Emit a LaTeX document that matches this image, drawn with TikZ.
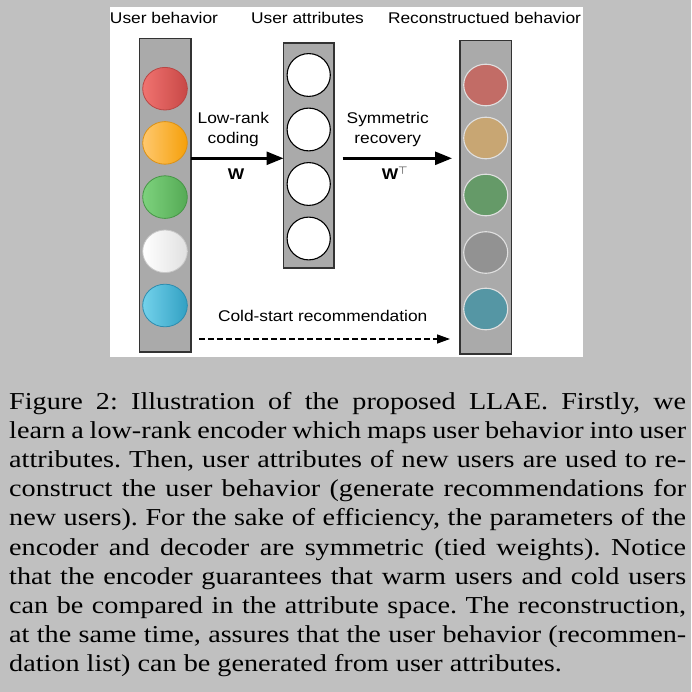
\documentclass[tikz,border=0pt]{standalone}
\usepackage{fontspec}
\setmainfont{Liberation Serif}
\newfontfamily\diafont{Liberation Sans}
\usepackage{amssymb}
\usetikzlibrary{arrows.meta}
\definecolor{bggray}{HTML}{C0C0C0}
\definecolor{colfill}{HTML}{AAAAAA}
\definecolor{colline}{HTML}{333333}
\newcommand{\sx}[1]{\scalebox{1.12}[1]{#1}}
\newcommand{\dfont}{\diafont\fontsize{15.5}{18}\selectfont}
\tikzset{
  x=1pt, y=-1pt,
  column/.style={draw=colline, fill=colfill, line width=1.3pt},
  lbl/.style={font=\dfont, inner sep=0pt, anchor=base},
  attr/.style={draw=black, fill=white, line width=1.1pt},
  rec/.style={draw=black!12, line width=1.1pt},
  bigarrow/.style={line width=2.6pt, -{Triangle[length=17pt,width=13pt]}},
}
\begin{document}
\begin{tikzpicture}
\fill[bggray] (0,0) rectangle (691,692);
\useasboundingbox (0,0) rectangle (691,692);
\fill[white] (110,7) rectangle (583,357);
% columns
\draw[column] (139.5,38.5) rectangle (191,352);
\draw[column] (283.5,43) rectangle (334,268);
\draw[column] (460,40.7) rectangle (511.7,354);
\coordinate (lcolE) at (191,158.3);
\coordinate (mcolW) at (283.5,158.3);
\coordinate (a2s) at (342.5,158.3);
\coordinate (a2e) at (452,158.3);
% left circles with gradient
\shade[left color={rgb,255:red,240;green,115;blue,112}, right color={rgb,255:red,200;green,72;blue,70}, draw={rgb,255:red,185;green,70;blue,68}, line width=0.8pt]
  (165,88.7) ellipse [x radius=22.3, y radius=21.3];
\shade[left color={rgb,255:red,255;green,200;blue,110}, right color={rgb,255:red,245;green,160;blue,10}, draw={rgb,255:red,220;green,145;blue,20}, line width=0.8pt]
  (165,142.9) ellipse [x radius=22.3, y radius=21.3];
\shade[left color={rgb,255:red,125;green,210;blue,125}, right color={rgb,255:red,85;green,170;blue,85}, draw={rgb,255:red,70;green,150;blue,70}, line width=0.8pt]
  (165,197.1) ellipse [x radius=22.3, y radius=21.3];
\shade[left color=white, right color=black!12, draw=black!22, line width=0.8pt]
  (165,251.3) ellipse [x radius=22.3, y radius=21.3];
\shade[left color={rgb,255:red,115;green,210;blue,235}, right color={rgb,255:red,50;green,160;blue,195}, draw={rgb,255:red,45;green,140;blue,175}, line width=0.8pt]
  (165,305.5) ellipse [x radius=22.3, y radius=21.3];
% middle circles
\foreach \yy in {75,129.5,184,238.5}
  \draw[attr] (308.7,\yy) ellipse [x radius=21.6, y radius=21.4];
% right circles
\draw[rec, fill={rgb,255:red,194;green,108;blue,102}] (485.7,85) ellipse [x radius=22, y radius=20.8];
\draw[rec, fill={rgb,255:red,200;green,166;blue,115}] (485.7,138) ellipse [x radius=22, y radius=20.8];
\draw[rec, fill={rgb,255:red,101;green,154;blue,104}] (485.7,195) ellipse [x radius=22, y radius=20.8];
\draw[rec, fill={rgb,255:red,146;green,146;blue,146}] (485.7,252.5) ellipse [x radius=22, y radius=20.8];
\draw[rec, fill={rgb,255:red,85;green,150;blue,164}] (485.7,309) ellipse [x radius=22, y radius=20.8];
% titles
\node[lbl] (t1) at (164,23.5) {\sx{User behavior}};
\node[lbl] (t2) at (307.5,23.5) {\sx{User attributes}};
\node[lbl] (t3) at (484.5,23.5) {\sx{Reconstructued behavior}};
% arrows
\draw[bigarrow] (lcolE) -- (mcolW);
\draw[bigarrow] (a2s) -- (a2e);
\node[lbl] (l1) at (233.3,123.3) {\sx{Low-rank}};
\node[lbl] (l2) at (233.3,143.5) {\sx{coding}};
\node[lbl] (w1) at (236,180) {\sx{\bfseries W}};
\node[lbl] (s1) at (387.7,123.3) {\sx{Symmetric}};
\node[lbl] (s2) at (387.7,143.5) {\sx{recovery}};
\node[lbl] (w2) at (395,180) {\sx{{\bfseries W}$^{\top}$}};
% cold start
\coordinate (cs1) at (199,339);
\coordinate (cs2) at (450,339);
\draw[line width=1.3pt, dash pattern=on 5.5pt off 3.5pt, -{Triangle[length=13pt,width=9pt]}] (cs1) -- (cs2);
\node[lbl] (cs) at (322.7,321.7) {\sx{Cold-start recommendation}};
% caption
\node[anchor=base west, inner sep=0pt] (cap) at (9,409) {\scalebox{1.16}[1]{\parbox[t]{583.6pt}{\fontsize{24.3}{29.2}\selectfont\parindent=0pt\frenchspacing
\makebox[\linewidth][s]{Figure 2: Illustration of the proposed LLAE. Firstly, we}\par
\makebox[\linewidth][s]{learn a low-rank encoder which maps user behavior into user}\par
\makebox[\linewidth][s]{attributes. Then, user attributes of new users are used to re-}\par
\makebox[\linewidth][s]{construct the user behavior (generate recommendations for}\par
\makebox[\linewidth][s]{new users). For the sake of efficiency, the parameters of the}\par
\makebox[\linewidth][s]{encoder and decoder are symmetric (tied weights). Notice}\par
\makebox[\linewidth][s]{that the encoder guarantees that warm users and cold users}\par
\makebox[\linewidth][s]{can be compared in the attribute space. The reconstruction,}\par
\makebox[\linewidth][s]{at the same time, assures that the user behavior (recommen-}\par
dation list) can be generated from user attributes.}}};
\end{tikzpicture}
\end{document}
